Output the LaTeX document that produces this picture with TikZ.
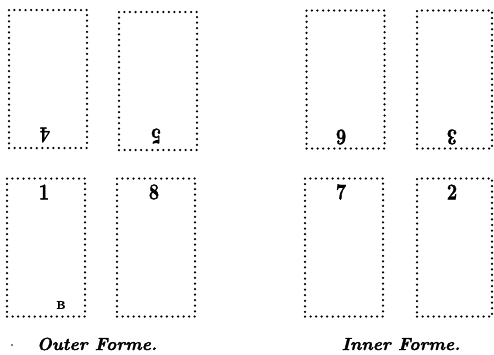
\documentclass[tikz,border=0pt]{standalone}
\usepackage{graphicx}
\usepackage{fontspec}
\newfontfamily\heavybf[FakeBold=1.6]{lmroman10-bold.otf}
\newfontfamily\heavybi[FakeBold=1.6]{lmroman10-bolditalic.otf}
\begin{document}
\begin{tikzpicture}[x=1pt,y=-1pt,
  page/.style={draw, line width=2.5pt, line cap=round, dash pattern=on 0pt off 5.55pt,
    rectangle, inner sep=0pt, minimum width=#1, minimum height=138pt},
  page/.default=78pt,
  num/.style={inner sep=0pt, font=\fontsize{18}{20}\heavybf},
  forme/.style={inner sep=0pt, anchor=base, font=\fontsize{17.5}{20}\heavybi}]
\useasboundingbox (0,0) rectangle (494,354);
% Outer forme
\node[page] (p4) at (48,79) {};
\node[page] (p5) at (158,81) {};
\node[page] (p1) at (46,247.5) {};
\node[page] (p8) at (156,247.5) {};
% Inner forme
\node[page] (p6) at (345.5,79.5) {};
\node[page=75pt] (p3) at (454.5,79.5) {};
\node[page] (p7) at (344,247.5) {};
\node[page=75pt] (p2) at (454.5,247.5) {};
% numbers
\node[num, rotate=180] (n4) at (45,135) {\scalebox{1}[1.25]{4}};
\node[num, rotate=180] (n5) at (156,136) {\scalebox{1}[1.25]{5}};
\node[num, rotate=180] (n6) at (341,137) {\scalebox{1}[1.25]{6}};
\node[num, rotate=180] (n3) at (452,137) {\scalebox{1}[1.25]{3}};
\node[num] (n1) at (44,192) {\scalebox{1}[1.25]{1}};
\node[num] (n8) at (154,192) {\scalebox{1}[1.25]{8}};
\node[num] (n7) at (341,192) {\scalebox{1}[1.25]{7}};
\node[num] (n2) at (452,192) {\scalebox{1}[1.25]{2}};
\node[inner sep=0pt, font=\fontsize{11}{12}\heavybf] (sig) at (61,305) {B};
% captions
\node[forme] (outer) at (97,350) {Outer Forme.};
\node[forme] (inner) at (401,350) {Inner Forme.};
\node[circle, fill, inner sep=0pt, minimum size=1.6pt] (dot) at (12,345) {};
\end{tikzpicture}
\end{document}
